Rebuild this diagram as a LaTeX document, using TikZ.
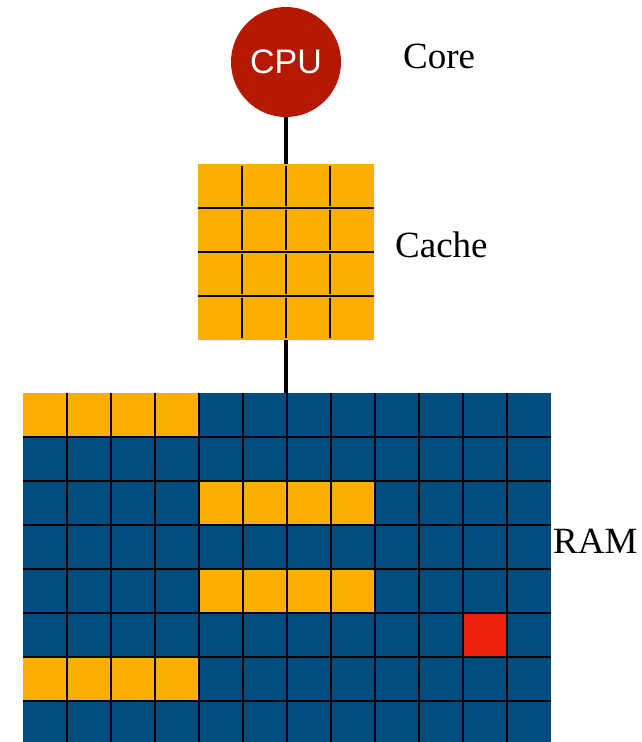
\documentclass[tikz,border=0pt]{standalone}
\usepackage{fontspec}
\setmainfont{Liberation Serif}
\setsansfont{Liberation Sans}
\usetikzlibrary{positioning}
\definecolor{cpured}{RGB}{180,25,0}
\definecolor{lineorange}{RGB}{253,174,0}
\definecolor{ramblue}{RGB}{0,78,128}
\definecolor{hitred}{RGB}{238,33,14}
\tikzset{
  cell/.style={draw=none, inner sep=0pt, outer sep=0pt},
  grid line/.style={line width=2.4pt, black},
  link/.style={line width=4pt, black},
  level label/.style={anchor=base west, inner sep=0pt, font=\fontsize{37}{40}\selectfont}
}

\begin{document}
\begin{tikzpicture}[x=1pt, y=-1pt]
  \useasboundingbox (0,0) rectangle (642,742);

  % core
  \node[circle, fill=cpured, minimum size=110pt, inner sep=0pt, text=white,
        font=\sffamily\fontsize{34}{36}\selectfont] (cpu) at (286,62) {CPU};
  \node[level label] (corelbl) at (403,68) {Core};

  % cache: 4 lines of 4 words
  \node[cell, fill=lineorange, minimum width=176pt, minimum height=176pt] (cache) at (286,252) {};
  \foreach \r in {1,2,3}
    \draw[line width=1.8pt] (198,164+44*\r) -- (374,164+44*\r);
  \foreach \r in {0,...,3}
    \foreach \c in {1,2,3}
      \draw[grid line] (198+44*\c,166+44*\r) -- (198+44*\c,206+44*\r);
  \node[level label] (cachelbl) at (395,257) {Cache};

  % ram
  \node[cell, fill=ramblue, minimum width=528pt, minimum height=352pt] (ram) at (287,569) {};
  \foreach \x/\y in {23/393, 199/481, 199/569, 23/657}
    \fill[lineorange] (\x,\y) rectangle ++(176,44);
  \fill[hitred] (463,613) rectangle ++(44,44);
  \foreach \c in {1,...,11}
    \draw[grid line] (23+44*\c,393) -- (23+44*\c,745);
  \foreach \r in {1,...,7}
    \draw[grid line] (23,393+44*\r) -- (551,393+44*\r);
  \node[level label] (ramlbl) at (553,553) {RAM};

  % links
  \draw[link] (cpu.south) -- (cache.north);
  \draw[link] (cache.south) -- (cache.south |- ram.north);
\end{tikzpicture}
\end{document}
